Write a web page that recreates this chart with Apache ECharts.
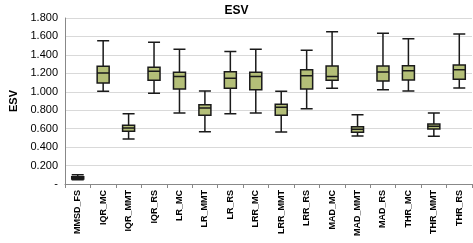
<!DOCTYPE html>
<html>
<head>
<meta charset="utf-8">
<script src="https://cdn.jsdelivr.net/npm/echarts@6/dist/echarts.min.js"></script>
<style>
  html, body { margin: 0; padding: 0; background: #fff; }
  #chart { width: 473px; height: 243px; }
</style>
</head>
<body>
<div id="chart"></div>
<script>
// categories (methods)
const methods = ['MMSD_FS', 'IQR_MC', 'IQR_MMT', 'IQR_RS', 'LR_MC', 'LR_MMT', 'LR_RS',
  'LRR_MC', 'LRR_MMT', 'LRR_RS', 'MAD_MC', 'MAD_MMT', 'MAD_RS', 'THR_MC', 'THR_MMT', 'THR_RS']

// box stats: min, q1, median, q3, max
const mins    = [0.045, 1.005, 0.488, 0.983, 0.770, 0.567, 0.763, 0.770, 0.564, 0.817, 1.037, 0.520, 1.023, 1.008, 0.517, 1.041]
const q1s     = [0.055, 1.095, 0.571, 1.124, 1.030, 0.745, 1.037, 1.023, 0.745, 1.030, 1.124, 0.560, 1.117, 1.128, 0.596, 1.135]
const medians = [0.065, 1.203, 0.607, 1.222, 1.167, 0.824, 1.146, 1.167, 0.831, 1.175, 1.167, 0.593, 1.214, 1.229, 0.625, 1.240]
const q3s     = [0.078, 1.276, 0.636, 1.265, 1.211, 0.860, 1.218, 1.211, 0.864, 1.240, 1.279, 0.622, 1.279, 1.283, 0.650, 1.290]
const maxs    = [0.100, 1.554, 0.763, 1.536, 1.460, 1.008, 1.438, 1.460, 1.005, 1.449, 1.652, 0.752, 1.634, 1.576, 0.770, 1.626]

const yTicks = [0, 0.2, 0.4, 0.6, 0.8, 1.0, 1.2, 1.4, 1.6, 1.8]

const boxData = methods.map((m, i) => [mins[i], q1s[i], medians[i], q3s[i], maxs[i]])

const chart = echarts.init(document.getElementById('chart'))

const option = {
  animation: false,
  title: {
    text: 'ESV',
    left: 'center',
    top: 0,
    textStyle: { fontFamily: 'Liberation Sans', fontWeight: 'bold', fontSize: 12, color: '#000' }
  },
  grid: { left: 60, right: 1, top: 18, bottom: 59 },
  xAxis: {
    type: 'category',
    data: methods,
    boundaryGap: true,
    axisLine: { lineStyle: { color: '#888', width: 1 } },
    axisTick: { show: true, alignWithLabel: false, length: 4, lineStyle: { color: '#888' } },
    axisLabel: {
      rotate: 90,
      interval: 0,
      margin: 6,
      fontFamily: 'Liberation Sans',
      fontWeight: 'bold',
      fontSize: 9,
      color: '#000'
    },
    splitLine: { show: false }
  },
  yAxis: {
    type: 'value',
    min: yTicks[0],
    max: yTicks[yTicks.length - 1],
    interval: 0.2,
    name: 'ESV',
    nameLocation: 'middle',
    nameGap: 46,
    nameRotate: 90,
    nameTextStyle: { fontFamily: 'Liberation Sans', fontWeight: 'bold', fontSize: 11, color: '#000' },
    axisLine: { show: true, lineStyle: { color: '#888' } },
    axisTick: { show: false },
    axisLabel: {
      margin: 7,
      fontFamily: 'Liberation Sans',
      fontSize: 11,
      color: '#000',
      formatter: v => (v === 0 ? '-' : v.toFixed(3))
    },
    splitLine: { lineStyle: { color: '#d9d9d9', width: 1 } }
  },
  series: [{
    type: 'boxplot',
    data: boxData,
    boxWidth: [11, 12],
    itemStyle: { color: '#b4bf78', borderColor: '#1a1a1a', borderWidth: 1.5 },
    emphasis: { disabled: true }
  }]
}

chart.setOption(option)
</script>
</body>
</html>
